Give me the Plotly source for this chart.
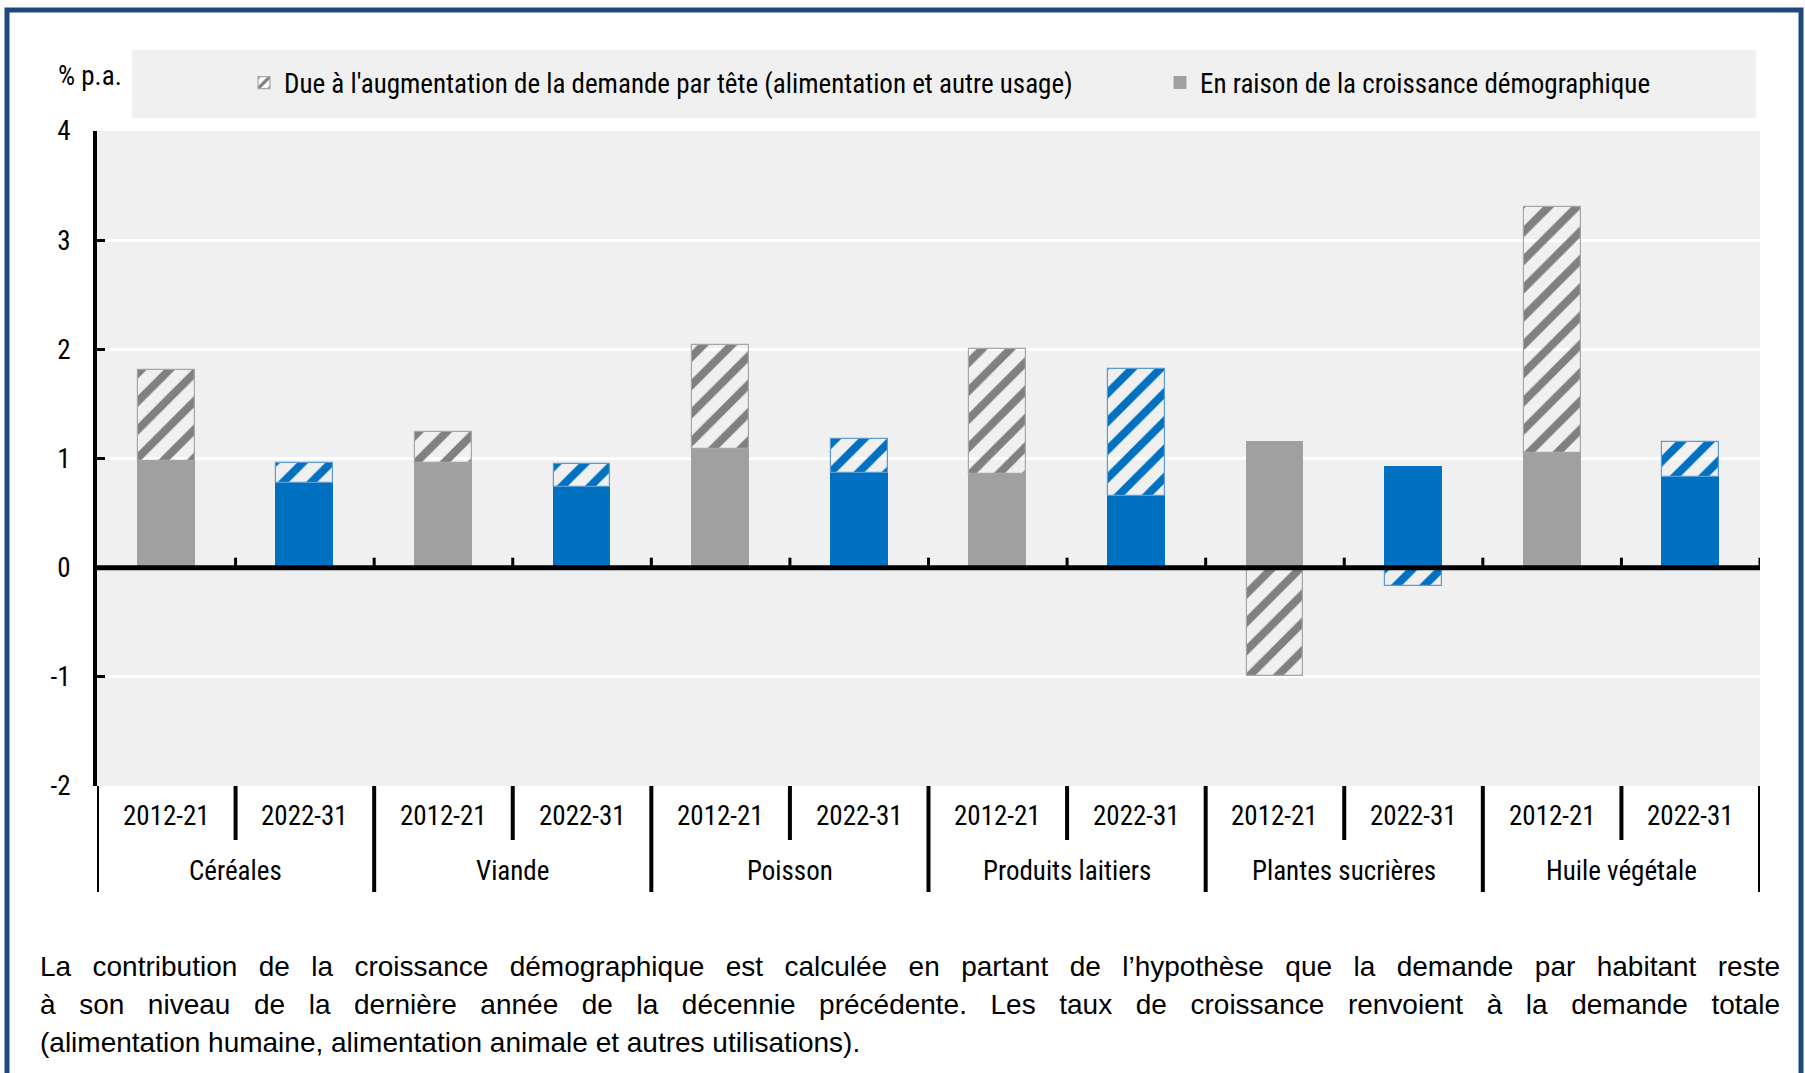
import plotly.graph_objects as go

# ---------------- data ----------------
categories = ["Céréales", "Viande", "Poisson", "Produits laitiers",
              "Plantes sucrières", "Huile végétale"]
periods = ["2012-21", "2022-31"]
pop_2012 = [0.98, 0.96, 1.09, 0.86, 1.15, 1.05]
pop_2022 = [0.78, 0.74, 0.87, 0.66, 0.92, 0.83]
percap_2012 = [0.83, 0.28, 0.95, 1.14, -0.99, 2.25]
percap_2022 = [0.18, 0.21, 0.31, 1.16, -0.17, 0.32]
y_ticks = [-2, -1, 0, 1, 2, 3, 4]
y_ticktext = ["-2", "-1", "0", "1", "2", "3", "4"]

legend_percap = "Due à l'augmentation de la demande par tête (alimentation et autre usage)"
legend_pop = "En raison de la croissance démographique"
y_unit = "% p.a."
note_lines = [
    "La contribution de la croissance démographique est calculée en partant de l’hypothèse que la demande par habitant reste",
    "à son niveau de la dernière année de la décennie précédente. Les taux de croissance renvoient à la demande totale",
    "(alimentation humaine, alimentation animale et autres utilisations).",
]

# ---------------- styles ----------------
GREY = "#a0a0a0"
GREY_HATCH = "#808080"
BLUE = "#0070c0"
BLUE_EDGE = "#5b9bd5"
NARROW = "Liberation Sans Narrow, Arial Narrow, Roboto Condensed, DejaVu Sans Condensed, sans-serif"
ARIAL = "Liberation Sans, Arial, sans-serif"

W_FIG, H_FIG = 1805, 1073
L, R, T, B = 97, 1760, 131, 786
PW, PH = R - L, B - T


def px2x(px):
    return (px - L) / PW


def py2y(py):
    return (B - py) / PH


# interleave data
xpos, pop, percap, fill, hatch, edge = [], [], [], [], [], []
for i, c in enumerate(categories):
    for j, p in enumerate(periods):
        xpos.append(2 * i + j)
        if j == 0:
            pop.append(pop_2012[i]); percap.append(percap_2012[i])
            fill.append(GREY); hatch.append(GREY_HATCH); edge.append("#a6a6a6")
        else:
            pop.append(pop_2022[i]); percap.append(percap_2022[i])
            fill.append(BLUE); hatch.append(BLUE); edge.append(BLUE_EDGE)

fig = go.Figure()
fig.add_trace(go.Bar(
    x=xpos, y=pop, name=legend_pop, width=0.41, legend="legend2",
    marker=dict(color=fill, line=dict(color=fill, width=1)),
))
fig.add_trace(go.Bar(
    x=xpos, y=percap, name=legend_percap, width=0.41, legend="legend",
    marker=dict(color=hatch, line=dict(color=edge, width=1.2),
                pattern=dict(shape="/", fgcolor=hatch, bgcolor="white",
                             fgopacity=1, size=20, solidity=0.4,
                             fillmode="replace")),
))

shapes = []
n = len(xpos)
# zero line (drawn over bars)
shapes.append(dict(type="line", xref="paper", yref="y", x0=0, x1=1, y0=0, y1=0,
                   line=dict(color="black", width=5), layer="above"))
# tick marks on zero line at boundaries
for k in range(n):
    xb = k + 0.5
    shapes.append(dict(type="line", xref="x", yref="y", ysizemode="pixel", yanchor=0,
                       x0=xb, x1=xb, y0=0, y1=10,
                       line=dict(color="black", width=3), layer="above"))
# separators below plot
for k in range(-1, n):
    xb = k + 0.5
    long_sep = (k % 2 == 1) or k == -1
    depth = 106 if long_sep else 54
    shapes.append(dict(type="line", xref="x", yref="paper",
                       x0=xb, x1=xb, y0=0, y1=-depth / PH,
                       line=dict(color="black", width=4)))
# legend background
shapes.append(dict(type="rect", xref="paper", yref="paper",
                   x0=px2x(132), x1=px2x(1756), y0=py2y(118), y1=py2y(50),
                   fillcolor="#f0f0f0", line=dict(width=0), layer="below"))
# outer frame
shapes.append(dict(type="rect", xref="paper", yref="paper",
                   x0=px2x(7), x1=px2x(1801), y0=py2y(1100), y1=py2y(10),
                   fillcolor="rgba(0,0,0,0)", line=dict(color="#1f497d", width=5)))

annotations = []
for k in range(n):
    annotations.append(dict(x=xpos[k], y=py2y(816), xref="x", yref="paper",
                            text=periods[k % 2], showarrow=False,
                            font=dict(family=NARROW, size=27, color="black"),
                            xanchor="center", yanchor="middle"))
for i, c in enumerate(categories):
    annotations.append(dict(x=2 * i + 0.5, y=py2y(871), xref="x", yref="paper",
                            text=c, showarrow=False,
                            font=dict(family=NARROW, size=27, color="black"),
                            xanchor="center", yanchor="middle"))
annotations.append(dict(x=px2x(90), y=py2y(76), xref="paper", yref="paper",
                        text=y_unit, showarrow=False,
                        font=dict(family=NARROW, size=27, color="black"),
                        xanchor="center", yanchor="middle"))
note_y = [966, 1004, 1042]
for line, yy in zip(note_lines, note_y):
    annotations.append(dict(x=px2x(40), y=py2y(yy), xref="paper", yref="paper",
                            text=line, showarrow=False, align="left",
                            font=dict(family=ARIAL, size=28, color="black"),
                            xanchor="left", yanchor="middle"))

legend_common = dict(orientation="h", xref="container", yref="container",
                     xanchor="left", yanchor="middle",
                     bgcolor="rgba(0,0,0,0)", borderwidth=0,
                     font=dict(family=NARROW, size=27, color="black"))

fig.update_layout(
    width=W_FIG, height=H_FIG,
    margin=dict(l=L, r=W_FIG - R, t=T, b=H_FIG - B, pad=0, autoexpand=False),
    paper_bgcolor="white", plot_bgcolor="#f0f0f0",
    barmode="relative", bargap=0,
    shapes=shapes, annotations=annotations,
    showlegend=True,
    legend=dict(x=244 / W_FIG, y=1 - 83 / H_FIG, **legend_common),
    legend2=dict(x=1160 / W_FIG, y=1 - 83 / H_FIG, **legend_common),
    xaxis=dict(range=[-0.5, n - 0.5], showticklabels=False, showgrid=False,
               zeroline=False, showline=False, ticks=""),
    yaxis=dict(range=[y_ticks[0], y_ticks[-1]], tickvals=y_ticks, ticktext=y_ticktext,
               showgrid=True, gridcolor="white", gridwidth=3,
               zeroline=False, showline=True, linecolor="black", linewidth=4,
               ticks="inside", ticklen=8, tickwidth=3, tickcolor="black",
               ticklabelstandoff=17,
               tickfont=dict(family=NARROW, size=27, color="black")),
)

post = """
document.body.style.margin = '0';
document.body.style.overflow = 'hidden';
var gd = document.getElementById('{plot_id}');
function placeNotes(){
  var LEFT = 40, RIGHT = 1780;
  var texts = gd.querySelectorAll('g.annotation-text-g text');
  texts.forEach(function(t){
    var s = t.textContent;
    var isNote = s.indexOf('La contribution') === 0 || s.indexOf('à son niveau') === 0 || s.indexOf('(alimentation humaine') === 0;
    if (!isNote) return;
    t.setAttribute('text-anchor', 'start');
    var justify = s.indexOf('(alimentation humaine') !== 0;
    if (justify) {
      t.style.wordSpacing = '0px';
      var len = t.getComputedTextLength();
      var nsp = (s.match(/ /g) || []).length;
      var target = RIGHT - LEFT;
      if (nsp > 0 && len < target) { t.style.wordSpacing = ((target - len) / nsp) + 'px'; }
    }
    var r = t.getBoundingClientRect();
    var x = parseFloat(t.getAttribute('x') || '0');
    t.setAttribute('x', x + (LEFT - r.left));
  });
}
placeNotes();
"""

fig.write_html("out.html", post_script=post, config={"displayModeBar": False})
